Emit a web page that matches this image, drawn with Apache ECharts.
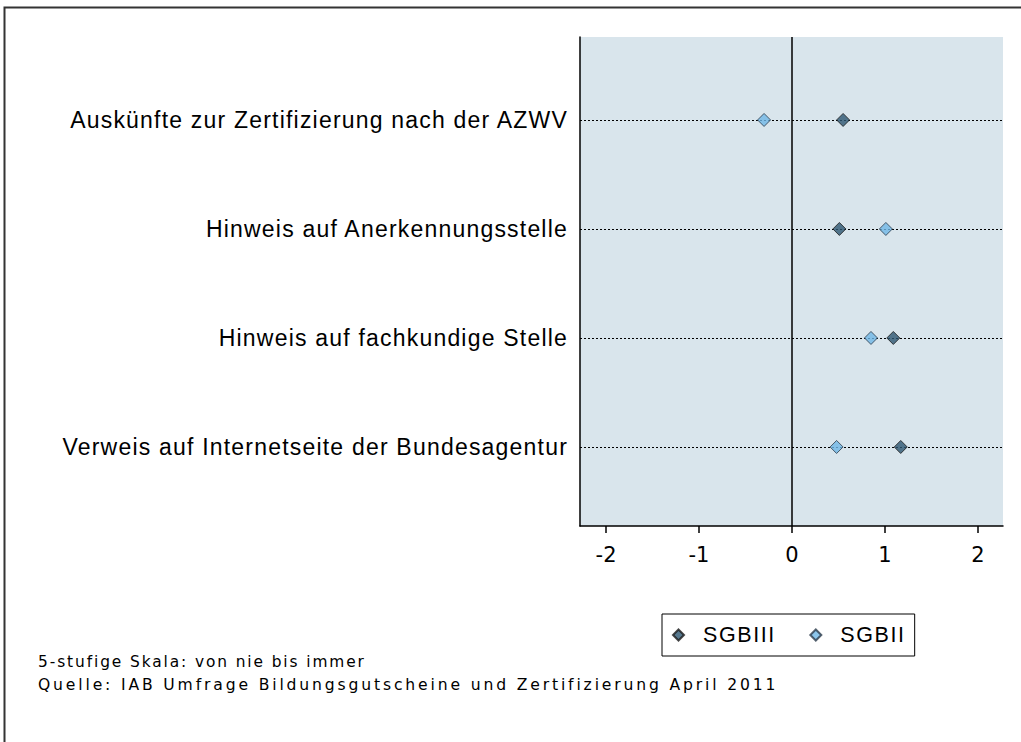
<!DOCTYPE html>
<html>
<head>
<meta charset="utf-8">
<script src="https://cdn.jsdelivr.net/npm/echarts@6/dist/echarts.min.js"></script>
<style>
  html, body { margin: 0; padding: 0; background: #fff; }
  #chart { width: 1021px; height: 742px; }
  /* im Original gesperrt gesetzte Texte */
  #chart text[style*="15.4px"] { letter-spacing: 1.9px; }
  #chart text[style*="15.6px"] { letter-spacing: 2.85px; }
  #chart text[style*="23px"] { letter-spacing: 1.2px; }
  #chart text[style*="21.5px"] { letter-spacing: 1.6px; }
</style>
</head>
<body>
<div id="chart"></div>
<script>
// Kategorien (von oben nach unten)
const categories = [
  "Auskünfte zur Zertifizierung nach der AZWV",
  "Hinweis auf Anerkennungsstelle",
  "Hinweis auf fachkundige Stelle",
  "Verweis auf Internetseite der Bundesagentur"
];
const rows = [1, 2, 3, 4];
const sgbIII = [0.55, 0.51, 1.09, 1.17];
const sgbII = [-0.30, 1.01, 0.85, 0.48];
const xTicks = [-2, -1, 0, 1, 2];
const notes = [
  "5-stufige Skala: von nie bis immer",
  "Quelle: IAB Umfrage Bildungsgutscheine und Zertifizierung April 2011"
];

const sans = "Liberation Sans, Arial, sans-serif";
const dejavu = "DejaVu Sans, Verdana, sans-serif";
const chart = echarts.init(document.getElementById("chart"), null, { renderer: "svg" });

const option = {
  animation: false,
  grid: {
    left: 580,
    right: 18,
    top: 37,
    bottom: 216,
    show: true,
    backgroundColor: "#d9e5ec",
    borderWidth: 0
  },
  xAxis: {
    type: "value",
    min: -2.28,
    max: 2.27,
    axisLine: { show: true, onZero: false, lineStyle: { color: "#000", width: 1.5 } },
    axisTick: { show: true, length: 7, customValues: xTicks, lineStyle: { color: "#000", width: 1.5 } },
    axisLabel: {
      customValues: xTicks,
      color: "#000",
      fontFamily: dejavu,
      fontSize: 21,
      margin: 18
    },
    splitLine: { show: false }
  },
  yAxis: {
    type: "value",
    inverse: true,
    min: 0.239,
    max: 4.725,
    axisLine: { show: true, onZero: false, lineStyle: { color: "#000", width: 1.5 } },
    axisTick: { show: false },
    axisLabel: {
      customValues: rows,
      formatter: function (v) {
        return categories[v - 1];
      },
      color: "#000",
      fontFamily: sans,
      fontSize: 23,
      margin: 12
    },
    splitLine: { show: false }
  },
  legend: {
    left: 662,
    top: 614,
    orient: "horizontal",
    borderColor: "#000",
    borderWidth: 1,
    padding: [10, 17, 10, 10],
    itemGap: 43,
    itemWidth: 11,
    itemHeight: 11,
    textStyle: { fontFamily: sans, fontSize: 21.5, color: "#000", padding: [0, 0, 0, 14] },
    data: [
      { name: "SGBIII", icon: "diamond" },
      { name: "SGBII", icon: "diamond" }
    ]
  },
  graphic: [
    {
      type: "rect",
      shape: { x: 4.5, y: 7.5, width: 1100, height: 900 },
      style: { fill: "none", stroke: "#333", lineWidth: 2 },
      silent: true
    },
    {
      type: "text",
      left: 38,
      top: 654,
      style: { text: notes[0], font: "15.4px " + dejavu, fill: "#000" }
    },
    {
      type: "text",
      left: 38,
      top: 677,
      style: { text: notes[1], font: "15.6px " + dejavu, fill: "#000" }
    }
  ],
  series: [
    {
      name: "SGBIII",
      type: "scatter",
      symbol: "diamond",
      symbolSize: 13,
      z: 5,
      itemStyle: { color: "#2d5672", borderColor: "#1a1a1a", borderWidth: 1 },
      data: sgbIII.map((v, i) => [v, rows[i]]),
      markLine: {
        silent: true,
        symbol: "none",
        label: { show: false },
        data: rows.map(r => ({ yAxis: r, lineStyle: { color: "#000", type: [2, 2], width: 1 } }))
          .concat([{ xAxis: 0, lineStyle: { color: "#000", type: "solid", width: 1.5 } }])
      }
    },
    {
      name: "SGBII",
      type: "scatter",
      symbol: "diamond",
      symbolSize: 13,
      z: 5,
      itemStyle: { color: "#6fb7e6", borderColor: "#2a3a4a", borderWidth: 1 },
      data: sgbII.map((v, i) => [v, rows[i]])
    }
  ]
};

chart.setOption(option);
</script>
</body>
</html>
